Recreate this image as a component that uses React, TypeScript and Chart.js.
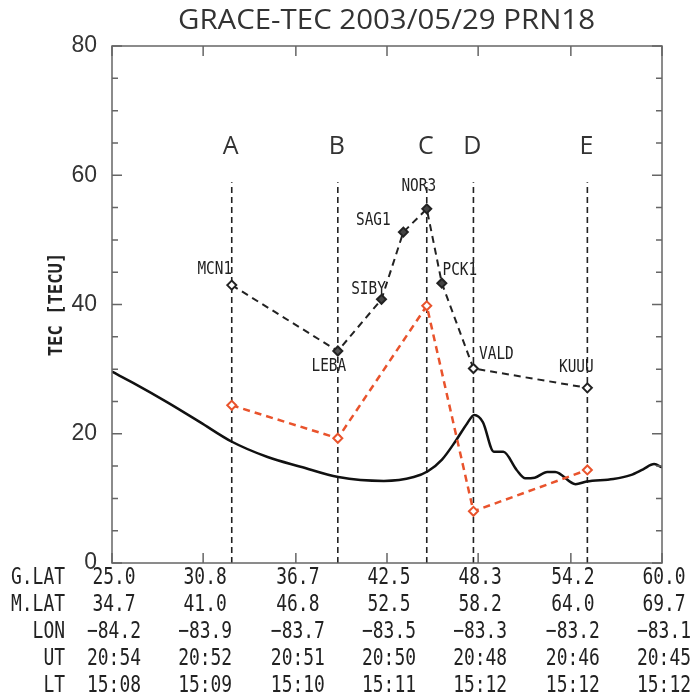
import React, { useEffect, useRef } from 'react';
import { Chart, registerables } from 'chart.js';

Chart.register(...registerables);

// ---- axis / table labels ----
const gLatTicks = [25.0, 30.8, 36.7, 42.5, 48.3, 54.2, 60.0];
const gLatLabels = ['25.0', '30.8', '36.7', '42.5', '48.3', '54.2', '60.0'];
const mLatLabels = ['34.7', '41.0', '46.8', '52.5', '58.2', '64.0', '69.7'];
const lonLabels = ['\u221284.2', '\u221283.9', '\u221283.7', '\u221283.5', '\u221283.3', '\u221283.2', '\u221283.1'];
const utLabels = ['20:54', '20:52', '20:51', '20:50', '20:48', '20:46', '20:45'];
const ltLabels = ['15:08', '15:09', '15:10', '15:11', '15:12', '15:12', '15:12'];
const rowHeaders = ['G.LAT', 'M.LAT', 'LON', 'UT', 'LT'];

// ---- GPS station TEC (black dashed) ----
const stationNames = ['MCN1', 'LEBA', 'SIBY', 'SAG1', 'NOR3', 'PCK1', 'VALD', 'KUUU'];
const stationLat = [32.62, 39.37, 42.15, 43.54, 45.03, 45.99, 48.0, 55.25];
const stationTec = [43.0, 32.8, 40.8, 51.2, 54.8, 43.3, 30.1, 27.1];

// ---- marked crossings A..E and GRACE TEC (red dashed) ----
const markLetters = ['A', 'B', 'C', 'D', 'E'];
const markLat = [32.62, 39.37, 45.03, 48.0, 55.25];
const graceTec = [24.4, 19.3, 39.8, 8.0, 14.4];

// ---- model curve (black solid) ----
const modelLat = [25.0, 26.4, 28.5, 30.6, 32.6, 34.9, 37.0, 39.4, 42.3, 44.2, 45.1, 46.0, 46.9, 47.6, 48.05, 48.6, 49.3, 49.9, 50.75, 51.3, 51.9, 52.7, 53.2, 54.5, 55.2, 56.9, 58.0, 58.8, 59.5, 60.0];
const modelTec = [29.6, 27.8, 24.9, 21.8, 18.8, 16.4, 14.9, 13.3, 12.7, 13.3, 14.2, 16.0, 19.0, 21.6, 22.9, 21.8, 17.2, 17.2, 14.4, 13.1, 13.2, 14.1, 14.1, 12.2, 12.6, 13.0, 13.6, 14.5, 15.3, 14.8];

const vLineTop = 58.9;
const letterLevel = 64.4;

// label placement relative to marker (px)
const stationLabelOffsets: [number, number][] = [
  [-17, -16], [-9, 15], [-13, -10], [-30, -12], [-8, -23], [18, -13], [23, -14], [-11, -21],
];

const MONO = '"DejaVu Sans Mono"';

function drawScaled(ctx: CanvasRenderingContext2D, text: string, x: number, y: number, font: string, sx: number, align: CanvasTextAlign, color: string, rot = 0) {
  ctx.save();
  ctx.translate(x, y);
  if (rot) ctx.rotate(rot);
  ctx.scale(sx, 1);
  ctx.font = font;
  ctx.fillStyle = color;
  ctx.textAlign = align;
  ctx.textBaseline = 'middle';
  ctx.fillText(text, 0, 0);
  ctx.restore();
}

const decorPlugin = {
  id: 'decor',
  afterDatasetsDraw(chart: any) {
    const { ctx, chartArea: a, scales } = chart;
    const x = scales.x, y = scales.y;
    ctx.save();
    ctx.strokeStyle = '#666';
    ctx.lineWidth = 1.5;
    ctx.strokeRect(a.left, a.top, a.right - a.left, a.bottom - a.top);
    ctx.beginPath();
    y.ticks.forEach((t: any) => {
      const py = y.getPixelForValue(t.value);
      const len = t.value % 20 === 0 ? 10 : 6;
      ctx.moveTo(a.left, py); ctx.lineTo(a.left + len, py);
      ctx.moveTo(a.right, py); ctx.lineTo(a.right - len, py);
    });
    x.ticks.forEach((t: any) => {
      const px = x.getPixelForValue(t.value);
      ctx.moveTo(px, a.top); ctx.lineTo(px, a.top + 10);
      ctx.moveTo(px, a.bottom); ctx.lineTo(px, a.bottom - 10);
    });
    ctx.stroke();
    ctx.restore();
  },
  afterDraw(chart: any) {
    const { ctx, chartArea: a, scales } = chart;
    const x = scales.x, y = scales.y;
    // title
    ctx.save();
    ctx.font = '27px "Open Sans"';
    const title = 'GRACE-TEC 2003/05/29 PRN18';
    const w = ctx.measureText(title).width;
    ctx.restore();
    ctx.save();
    ctx.translate(386.5, 28.5);
    ctx.scale(417 / w, 1);
    ctx.font = '27px "Open Sans"';
    ctx.fillStyle = '#333';
    ctx.textAlign = 'center';
    ctx.textBaseline = 'alphabetic';
    ctx.fillText(title, 0, 0);
    ctx.restore();

    // y title
    drawScaled(ctx, 'TEC [TECU]', 57, (a.top + a.bottom) / 2, `bold 20px ${MONO}`, 0.86, 'center', '#222', -Math.PI / 2);

    // letters
    markLetters.forEach((L, i) => {
      const px = x.getPixelForValue(markLat[i]);
      const py = y.getPixelForValue(letterLevel);
      drawScaled(ctx, L, px - 1, py, '25px "Open Sans"', 1, 'center', '#333');
    });

    // station labels
    stationNames.forEach((n, i) => {
      const px = x.getPixelForValue(stationLat[i]);
      const py = y.getPixelForValue(stationTec[i]);
      const [dx, dy] = stationLabelOffsets[i];
      drawScaled(ctx, n, px + dx, py + dy, `18px ${MONO}`, 0.8, 'center', '#222');
    });

    // table
    const rows = [gLatLabels, mLatLabels, lonLabels, utLabels, ltLabels];
    rows.forEach((row, r) => {
      const ry = a.bottom + 15 + r * 26.9;
      drawScaled(ctx, rowHeaders[r], 65, ry, `23px ${MONO}`, 0.78, 'right', '#222');
      row.forEach((s, c) => {
        const px = x.getPixelForValue(gLatTicks[c]);
        drawScaled(ctx, s, px + 2, ry, `23px ${MONO}`, 0.78, 'center', '#222');
      });
    });
  },
};

export default function App() {
  const ref = useRef<HTMLCanvasElement | null>(null);
  useEffect(() => {
    if (!ref.current) return;
    const vLines = markLat.map((lat) => ({
      type: 'line' as const,
      data: [{ x: lat, y: 0 }, { x: lat, y: vLineTop }],
      borderColor: '#222',
      borderWidth: 1.6,
      borderDash: [6, 4],
      pointRadius: 0,
      order: 5,
    }));
    const chart = new Chart(ref.current, {
      type: 'line',
      data: {
        datasets: [
          {
            data: modelLat.map((v, i) => ({ x: v, y: modelTec[i] })),
            borderColor: '#111',
            borderWidth: 2.5,
            pointRadius: 0,
            cubicInterpolationMode: 'monotone',
            order: 3,
          },
          {
            data: stationLat.map((v, i) => ({ x: v, y: stationTec[i] })),
            borderColor: '#222',
            borderWidth: 2,
            borderDash: [7, 5],
            pointStyle: 'rectRot',
            pointRadius: 4.5,
            pointBorderWidth: 2,
            pointBorderColor: '#222',
            pointBackgroundColor: ['#fff', '#555', '#444', '#444', '#444', '#444', '#fff', '#fff'],
            order: 2,
          },
          {
            data: markLat.map((v, i) => ({ x: v, y: graceTec[i] })),
            borderColor: '#e9532c',
            borderWidth: 2.5,
            borderDash: [7, 5],
            pointStyle: 'rectRot',
            pointRadius: 4.5,
            pointBorderWidth: 2,
            pointBorderColor: '#e9532c',
            pointBackgroundColor: '#fff',
            order: 1,
          },
          ...vLines,
        ] as any,
      },
      options: {
        responsive: false,
        animation: false,
        devicePixelRatio: 1,
        layout: { padding: { top: 46, bottom: 137, right: 33, left: 0 } },
        plugins: { legend: { display: false }, tooltip: { enabled: false }, title: { display: false } },
        scales: {
          x: {
            type: 'linear',
            min: 25,
            max: 60,
            display: false,
            afterBuildTicks: (s: any) => { s.ticks = gLatTicks.map((v) => ({ value: v })); },
          },
          y: {
            type: 'linear',
            min: 0,
            max: 80,
            grid: { display: false },
            border: { display: false },
            ticks: {
              stepSize: 5,
              padding: 7,
              color: '#333',
              font: { family: '"Liberation Sans"', size: 23 },
              callback: (v: any) => (Number(v) % 20 === 0 ? String(v) : ''),
            },
            afterFit: (s: any) => { s.width = 112; },
          },
        },
      },
      plugins: [decorPlugin],
    });
    return () => chart.destroy();
  }, []);
  return (
    <div style={{ position: 'fixed', left: 0, top: 0, width: 695, height: 700, background: '#fff' }}>
      <canvas ref={ref} width={695} height={700} style={{ display: 'block' }} />
    </div>
  );
}
